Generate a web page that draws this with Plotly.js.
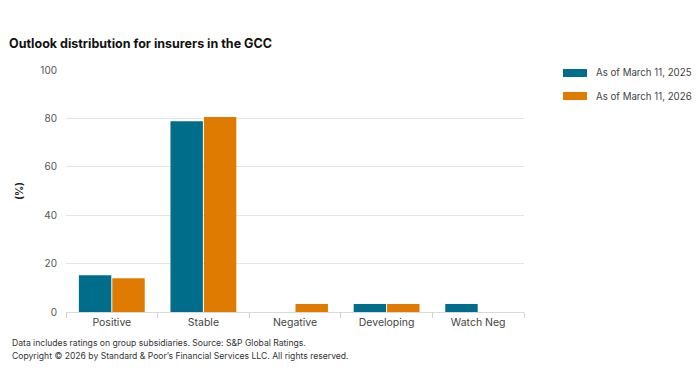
<!DOCTYPE html>
<html>
<head>
<meta charset="utf-8">
<script src="https://cdn.plot.ly/plotly-3.0.1.min.js"></script>
<style>html,body{margin:0;padding:0;background:#fff;}#chart{width:698px;height:392px;}</style>
</head>
<body>
<div id="chart"></div>
<script>
const categories = ["Positive", "Stable", "Negative", "Developing", "Watch Neg"];
const series2025 = [15.2, 78.8, 0, 3.3, 3.3];
const series2026 = [13.9, 80.6, 3.3, 3.3, 0];
const seriesNames = ["As of March 11, 2025", "As of March 11, 2026"];
const seriesColors = ["#006e8a", "#df7b00"];
const yTicks = [0, 20, 40, 60, 80, 100];

const FONT = "Inter, 'Open Sans', sans-serif";
const traces = [
  {type: "bar", name: seriesNames[0], x: categories, y: series2025,
   marker: {color: seriesColors[0], line: {width: 0}}, hoverinfo: "none"},
  {type: "bar", name: seriesNames[1], x: categories, y: series2026,
   marker: {color: seriesColors[1], line: {width: 0}}, hoverinfo: "none"}
];

// custom legend (wide swatches), placed in container pixels converted to paper coords
const L = 66, R = 174, T = 70, B = 80, W = 698, H = 392;
const pw = W - L - R, ph = H - T - B;
const px = v => (v - L) / pw;
const py = v => (H - B - v) / ph;
const shapes = [], legendAnn = [];
seriesNames.forEach((n, i) => {
  const cy = 73 + i * 23;
  shapes.push({type: "rect", xref: "paper", yref: "paper", x0: px(563), x1: px(587),
               y0: py(cy - 4), y1: py(cy + 4), fillcolor: seriesColors[i], line: {width: 0}, layer: "above"});
  legendAnn.push({text: n, xref: "paper", yref: "paper", x: px(594), y: py(cy), xanchor: "left",
                  yanchor: "middle", showarrow: false, font: {family: FONT, size: 9.7, color: "#444"}});
});

const layout = {
  width: W, height: H,
  margin: {l: L, r: R, t: T, b: B},
  paper_bgcolor: "#fff", plot_bgcolor: "#fff",
  font: {family: FONT, size: 10, color: "#333"},
  barmode: "group", bargap: 0.27, bargroupgap: 0.03,
  title: {text: "<b>Outlook distribution for insurers in the GCC</b>", x: 0.013, xanchor: "left",
          y: 0.888, yanchor: "middle", font: {family: FONT, size: 12.5, color: "#111"}},
  xaxis: {type: "category", tickson: "boundaries", ticks: "outside", ticklen: 5, tickcolor: "#d0d0d0",
          showline: true, linecolor: "#d9d9d9", linewidth: 1, showgrid: false,
          tickfont: {family: FONT, size: 10.5, color: "#444"}, fixedrange: true},
  yaxis: {range: [0, 100], tickvals: yTicks, ticktext: yTicks.map(String), showgrid: true,
          gridcolor: "#e4e4e4", gridwidth: 1, zeroline: false, ticks: "", ticklabelstandoff: 8,
          tickfont: {family: FONT, size: 10, color: "#555"},
          title: {text: "<b>(%)</b>", standoff: 14, font: {family: FONT, size: 10, color: "#222"}}},
  showlegend: false,
  shapes: shapes,
  annotations: legendAnn.concat([
    {text: "Data includes ratings on group subsidiaries. Source: S&P Global Ratings.", xref: "paper", yref: "paper",
     x: px(10), y: py(343), xanchor: "left", yanchor: "middle", showarrow: false,
     font: {family: FONT, size: 8.6, color: "#333"}},
    {text: "Copyright © 2026 by Standard &amp; Poor’s Financial Services LLC. All rights reserved.", xref: "paper", yref: "paper",
     x: px(10), y: py(356), xanchor: "left", yanchor: "middle", showarrow: false,
     font: {family: FONT, size: 8.6, color: "#333"}}
  ])
};
Plotly.newPlot("chart", traces, layout, {displayModeBar: false, staticPlot: true});
</script>
</body>
</html>
